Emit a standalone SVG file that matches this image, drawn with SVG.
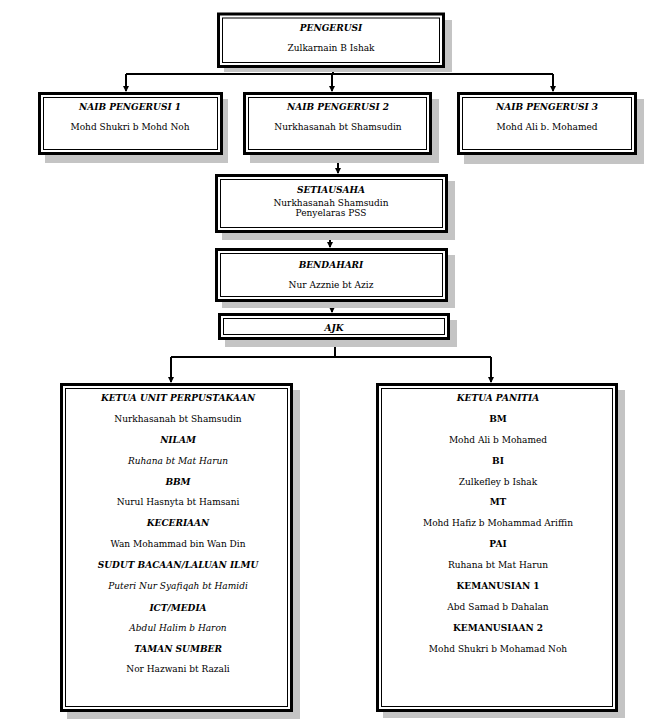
<svg xmlns="http://www.w3.org/2000/svg" width="670" height="726" viewBox="0 0 670 726">
<style>
.sh{fill:#c4c4c4}
.ob{fill:#fff;stroke:#000;stroke-width:3}
.ib{fill:none;stroke:#000;stroke-width:1}
text{font-family:"DejaVu Serif","Liberation Serif",serif;font-size:9px;text-anchor:middle;fill:#000}
.t{font-weight:bold;font-style:italic}
.b{font-weight:bold}
.i{font-style:italic}
.c{fill:none;stroke:#000;stroke-width:2}
</style>
<defs>
<marker id="ar" markerWidth="6" markerHeight="6" refX="5" refY="3" orient="auto" markerUnits="userSpaceOnUse">
<path d="M0,0 L6,3 L0,6 Z" fill="#000"/>
</marker>
</defs>
<rect width="670" height="726" fill="#fff"/>
<g id="connectors">
<path class="c" d="M333,68 V74"/>
<path class="c" d="M126,74 H553"/>
<path class="c" d="M126,74 V91" marker-end="url(#ar)"/>
<path class="c" d="M332,74 V91" marker-end="url(#ar)"/>
<path class="c" d="M553,74 V91" marker-end="url(#ar)"/>
<path class="c" d="M338,155 V173" marker-end="url(#ar)"/>
<path class="c" d="M330,233 V247" marker-end="url(#ar)"/>
<path class="c" d="M332,302 V312" marker-end="url(#ar)"/>
<path class="c" d="M335,340 V357"/>
<path class="c" d="M171,357 H491"/>
<path class="c" d="M171,357 V382" marker-end="url(#ar)"/>
<path class="c" d="M491,357 V382" marker-end="url(#ar)"/>
</g>
<g id="pengerusi">
<rect class="sh" x="224" y="20" width="228" height="52"/>
<rect class="ob" x="218.5" y="14" width="225" height="52.5"/>
<rect class="ib" x="222.5" y="18" width="217" height="44.5"/>
<text class="t" x="331" y="31">PENGERUSI</text>
<text x="331" y="51">Zulkarnain B Ishak</text>
</g>
<g id="naib1">
<rect class="sh" x="45" y="99" width="183" height="64"/>
<rect class="ob" x="39.5" y="93.5" width="182" height="60"/>
<rect class="ib" x="43.5" y="97.5" width="174" height="52"/>
<text class="t" x="130" y="110">NAIB PENGERUSI 1</text>
<text x="130" y="130">Mohd Shukri b Mohd Noh</text>
</g>
<g id="naib2">
<rect class="sh" x="250" y="99" width="189" height="64"/>
<rect class="ob" x="244.5" y="93.5" width="186" height="60"/>
<rect class="ib" x="248.5" y="97.5" width="178" height="52"/>
<text class="t" x="338" y="110">NAIB PENGERUSI 2</text>
<text x="338" y="130">Nurkhasanah bt Shamsudin</text>
</g>
<g id="naib3">
<rect class="sh" x="464" y="99" width="180" height="65"/>
<rect class="ob" x="458.5" y="93.5" width="177" height="60"/>
<rect class="ib" x="462.5" y="97.5" width="169" height="52"/>
<text class="t" x="547" y="110">NAIB PENGERUSI 3</text>
<text x="547" y="130">Mohd Ali b. Mohamed</text>
</g>
<g id="setiausaha">
<rect class="sh" x="222" y="181" width="233" height="59"/>
<rect class="ob" x="216.5" y="175.5" width="230" height="56"/>
<rect class="ib" x="220.5" y="179.5" width="222" height="48"/>
<text class="t" x="331" y="193">SETIAUSAHA</text>
<text x="331" y="206">Nurkhasanah Shamsudin</text>
<text x="331" y="216">Penyelaras PSS</text>
</g>
<g id="bendahari">
<rect class="sh" x="222" y="255" width="233" height="53"/>
<rect class="ob" x="216.5" y="249.5" width="230" height="51"/>
<rect class="ib" x="220.5" y="253.5" width="222" height="43"/>
<text class="t" x="331" y="268">BENDAHARI</text>
<text x="331" y="288">Nur Azznie bt Aziz</text>
</g>
<g id="ajk">
<rect class="sh" x="225" y="320" width="232" height="27"/>
<rect class="ob" x="219.5" y="314.5" width="229" height="24"/>
<rect class="ib" x="223.5" y="318.5" width="221" height="16"/>
<text class="t" x="334" y="331">AJK</text>
</g>
<g id="perpustakaan">
<rect class="sh" x="67" y="390" width="233" height="329"/>
<rect class="ob" x="61.5" y="384.5" width="230" height="326"/>
<rect class="ib" x="65.5" y="388.5" width="222" height="318"/>
<text class="t" x="178" y="401">KETUA UNIT PERPUSTAKAAN</text>
<text x="178" y="422">Nurkhasanah bt Shamsudin</text>
<text class="t" x="178" y="443">NILAM</text>
<text class="i" x="178" y="464">Ruhana bt Mat Harun</text>
<text class="t" x="178" y="485">BBM</text>
<text x="178" y="505">Nurul Hasnyta bt Hamsani</text>
<text class="t" x="178" y="526">KECERIAAN</text>
<text x="178" y="547">Wan Mohammad bin Wan Din</text>
<text class="t" x="178" y="568">SUDUT BACAAN/LALUAN ILMU</text>
<text class="i" x="178" y="589">Puteri Nur Syafiqah bt Hamidi</text>
<text class="t" x="178" y="611">ICT/MEDIA</text>
<text class="i" x="178" y="631">Abdul Halim b Haron</text>
<text class="t" x="178" y="652">TAMAN SUMBER</text>
<text x="178" y="672">Nor Hazwani bt Razali</text>
</g>
<g id="panitia">
<rect class="sh" x="383" y="390" width="242" height="328"/>
<rect class="ob" x="377.5" y="384.5" width="239" height="326"/>
<rect class="ib" x="381.5" y="388.5" width="231" height="318"/>
<text class="t" x="498" y="401">KETUA PANITIA</text>
<text class="b" x="498" y="422">BM</text>
<text x="498" y="443">Mohd Ali b Mohamed</text>
<text class="b" x="498" y="464">BI</text>
<text x="498" y="485">Zulkefley b Ishak</text>
<text class="b" x="498" y="505">MT</text>
<text x="498" y="526">Mohd Hafiz b Mohammad Ariffin</text>
<text class="b" x="498" y="547">PAI</text>
<text x="498" y="568">Ruhana bt Mat Harun</text>
<text class="b" x="498" y="589">KEMANUSIAN 1</text>
<text x="498" y="610">Abd Samad b Dahalan</text>
<text class="b" x="498" y="631">KEMANUSIAAN 2</text>
<text x="498" y="652">Mohd Shukri b Mohamad Noh</text>
</g>
</svg>
